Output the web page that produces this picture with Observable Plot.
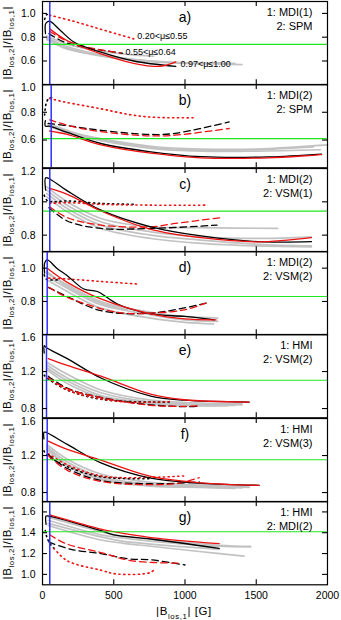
<!DOCTYPE html>
<html><head><meta charset="utf-8">
<script src="https://cdn.jsdelivr.net/npm/d3@7"></script>
<script src="https://cdn.jsdelivr.net/npm/@observablehq/plot@0.6"></script>
<style>
body{margin:0;background:#fff}
#chart{position:relative;width:341px;height:620px;font-family:'Liberation Sans',Arial,sans-serif}
#chart svg{position:absolute;left:0}
</style>
</head><body><div id="chart"></div>
<script>
// ---- axis / panel info ----
const xTicks = [500, 1000, 1500];
const xLabels = [0, 500, 1000, 1500, 2000];
const panelLetters = ["a)", "b)", "c)", "d)", "e)", "f)", "g)"];
const instr1 = ["1: MDI(1)", "1: MDI(2)", "1: MDI(2)", "1: MDI(2)", "1: HMI", "1: HMI", "1: HMI"];
const instr2 = ["2: SPM", "2: SPM", "2: VSM(1)", "2: VSM(2)", "2: VSM(2)", "2: VSM(3)", "2: MDI(2)"];
const yDomains = [[0.4, 1.1], [0.4, 1.0], [0.7, 1.2], [0.6, 1.1], [0.7, 1.6], [0.7, 1.6], [0.9, 1.7]];
const yTicks = [[0.6, 0.8, 1.0], [0.6, 0.8, 1.0], [0.8, 1.0, 1.2], [0.8, 1.0], [0.8, 1.2, 1.6], [0.8, 1.2, 1.6], [1.0, 1.2, 1.4, 1.6]];
const greenLevels = [0.74, 0.61, 0.944, 0.83, 1.105, 1.155, 1.41];
const blueLevels = [51, 61, 51, 33, 28, 33, 51];
const muLabels = ["0.20<μ≤0.55", "0.55<μ≤0.64", "0.97<μ≤1.00"];
const muLabelB = [665, 582, 968];
const muLabelR = [0.806, 0.671, 0.571];

// ---- panel a ----
const aBlack = [[21,0.83],[21,0.91],[35,0.93],[51,0.935],[126,0.856],[220,0.76],[410,0.674],[640,0.60],[935,0.554]];
const aRed = [[50,0.87],[174,0.77],[410,0.66],[640,0.58],[760,0.557],[850,0.56],[935,0.593]];
const aBlackDash = [[45,0.83],[150,0.76],[300,0.715],[450,0.685],[560,0.665]];
const aRedDash = [[50,0.85],[150,0.78],[300,0.72],[450,0.685],[550,0.667]];
const aBlackDot = [[15,0.95],[30,0.99],[50,0.985]];
const aRedDot = [[50,0.985],[200,0.94],[400,0.87],[640,0.786]];
const aGray = [
  [[30,0.80],[150,0.73],[300,0.68],[500,0.635],[800,0.595],[1100,0.58],[1400,0.57]],
  [[30,0.78],[150,0.71],[300,0.665],[500,0.625],[800,0.59],[1100,0.578],[1250,0.585]],
  [[30,0.81],[200,0.73],[400,0.685],[600,0.655],[780,0.64]],
  [[30,0.79],[200,0.70],[400,0.65],[700,0.605],[1000,0.585],[1350,0.58]]
];
// ---- panel b ----
const bBlack = [[20,0.74],[20,0.70],[45,0.70],[174,0.655],[410,0.575],[760,0.515],[1113,0.48],[1583,0.478],[1958,0.498]];
const bRed = [[50,0.665],[174,0.64],[410,0.565],[760,0.505],[1113,0.472],[1583,0.472],[1958,0.495]];
const bBlackDash = [[40,0.72],[200,0.70],[410,0.67],[760,0.64],[930,0.648],[1310,0.73]];
const bRedDash = [[50,0.745],[200,0.70],[410,0.66],[760,0.63],[930,0.635],[1310,0.683]];
const bBlackDot = [[15,0.78],[25,0.86],[45,0.90],[80,0.905]];
const bRedDot = [[50,0.90],[150,0.875],[410,0.825],[600,0.785],[760,0.765],[1065,0.76]];
const bGray = [
  [[40,0.72],[200,0.66],[410,0.61],[760,0.555],[1110,0.535],[1500,0.535],[2000,0.565]],
  [[40,0.70],[200,0.645],[410,0.595],[760,0.54],[1110,0.52],[1500,0.52],[1950,0.53]],
  [[40,0.71],[200,0.655],[410,0.603],[760,0.548],[1110,0.527],[1500,0.53],[1900,0.55]]
];
// ---- panel c ----
const cBlack = [[22,1.07],[22,1.145],[45,1.14],[174,1.066],[410,0.95],[760,0.85],[1113,0.795],[1512,0.761],[1887,0.761]];
const cRed = [[50,1.08],[174,1.045],[410,0.945],[760,0.835],[1113,0.785],[1512,0.76],[1887,0.785]];
const cBlackDash = [[45,0.965],[174,0.885],[410,0.84],[760,0.84],[1225,0.86]];
const cRedDash = [[50,0.97],[174,0.905],[410,0.86],[760,0.85],[930,0.87],[1254,0.905]];
const cBlackDot = [[12,1.04],[30,1.01],[60,1.0],[174,1.005],[410,0.99],[650,0.985]];
const cRedDot = [[50,0.99],[174,0.995],[410,0.985],[760,0.98],[1160,0.98]];
const cGray = [
  [[30,1.09],[174,1.0],[410,0.9],[760,0.85],[1113,0.845],[1650,0.84]],
  [[30,1.07],[174,0.98],[410,0.88],[760,0.82],[1113,0.79],[1512,0.78],[1887,0.79]],
  [[30,1.05],[174,0.96],[410,0.86],[760,0.80],[1113,0.77],[1512,0.745],[1887,0.735]],
  [[30,1.03],[174,0.94],[410,0.84],[760,0.78],[1113,0.75],[1512,0.735],[1887,0.73]]
];
// ---- panel d ----
const dBlack = [[15,0.97],[15,1.03],[33,1.05],[100,1.0],[174,0.955],[290,0.875],[385,0.86],[526,0.785],[760,0.725],[996,0.71],[1206,0.69]];
const dRed = [[40,0.995],[174,0.915],[410,0.815],[760,0.725],[996,0.695],[1218,0.69]];
const dBlackDash = [[40,0.885],[174,0.83],[410,0.745],[760,0.73],[1148,0.79]];
const dRedDash = [[45,0.885],[174,0.825],[526,0.735],[760,0.73],[996,0.75],[1148,0.79]];
const dBlackDot = [[12,0.96],[25,0.935],[45,0.93],[120,0.93]];
const dRedDot = [[45,0.94],[174,0.935],[410,0.92],[660,0.905]];
const dGray = [
  [[30,0.97],[174,0.90],[410,0.80],[760,0.735],[1000,0.71],[1230,0.70]],
  [[30,0.95],[174,0.88],[410,0.78],[760,0.72],[1000,0.69],[1230,0.68]],
  [[30,0.93],[174,0.86],[410,0.76],[760,0.70],[1000,0.675],[1200,0.665]],
  [[30,0.98],[174,0.89],[410,0.79],[600,0.75]]
];
// ---- panel e ----
const eBlack = [[12,1.40],[12,1.48],[25,1.46],[174,1.34],[410,1.13],[760,0.935],[996,0.89],[1450,0.87]];
const eRed = [[40,1.34],[174,1.266],[410,1.15],[760,0.955],[996,0.895],[1450,0.87]];
const eBlackDash = [[40,1.15],[174,1.02],[410,0.92],[760,0.84],[996,0.82],[1100,0.825]];
const eRedDash = [[40,1.13],[174,1.015],[410,0.918],[760,0.835],[996,0.824],[1110,0.83]];
const eBlackDot = [[12,1.16],[40,1.12],[174,1.0],[410,0.9],[760,0.87],[900,0.87]];
const eRedDot = [[40,1.13],[174,1.0],[410,0.905],[600,0.87],[900,0.875]];
const eGray = [
  [[30,1.30],[174,1.17],[410,1.0],[760,0.89],[1000,0.865],[1400,0.85]],
  [[30,1.27],[174,1.13],[410,0.97],[760,0.87],[1000,0.85],[1400,0.84]],
  [[30,1.24],[174,1.10],[410,0.94],[760,0.86],[1000,0.84],[1350,0.835]],
  [[30,1.22],[174,1.07],[410,0.92],[760,0.85],[1000,0.83],[1300,0.83]]
];
// ---- panel f ----
const fBlack = [[10,1.38],[10,1.45],[20,1.453],[174,1.32],[410,1.12],[760,0.955],[1113,0.9],[1520,0.878]];
const fRed = [[40,1.356],[174,1.266],[410,1.15],[760,0.975],[1113,0.905],[1520,0.878]];
const fBlackDash = [[40,1.21],[174,1.06],[410,0.93],[760,0.895],[1000,0.905],[1100,0.915]];
const fRedDash = [[40,1.2],[174,1.04],[410,0.92],[760,0.885],[950,0.9],[1100,0.96]];
const fBlackDot = [[10,1.25],[35,1.2],[174,1.08],[410,0.97],[760,0.95]];
const fRedDot = [[40,1.22],[174,1.1],[410,0.98],[660,0.96],[1000,0.98]];
const fGray = [
  [[30,1.32],[174,1.16],[410,1.0],[760,0.91],[1113,0.88],[1450,0.86]],
  [[30,1.30],[174,1.13],[410,0.97],[760,0.89],[1113,0.87],[1450,0.855]],
  [[30,1.28],[174,1.10],[410,0.95],[760,0.88],[1113,0.865],[1400,0.85]],
  [[30,1.27],[174,1.09],[410,0.94],[760,0.87],[1113,0.855],[1350,0.845]]
];
// ---- panel g ----
const gBlack = [[25,1.48],[25,1.56],[45,1.56],[410,1.42],[500,1.38],[760,1.34],[1240,1.25]];
const gRed = [[50,1.572],[410,1.435],[500,1.41],[760,1.354],[1240,1.296]];
const gBlackDash = [[45,1.31],[200,1.24],[410,1.2],[600,1.15],[760,1.14],[1000,1.09]];
const gRedDash = [[50,1.38],[174,1.29],[410,1.21],[630,1.13],[970,1.108]];
const gBlackDot = [[20,1.42],[30,1.36],[50,1.3],[80,1.25]];
const gRedDot = [[80,1.25],[174,1.13],[410,1.04],[526,1.003],[760,1.02],[790,1.06]];
const gGray = [
  [[40,1.55],[410,1.41],[500,1.38],[760,1.34],[1240,1.28],[1460,1.27]],
  [[40,1.52],[410,1.38],[560,1.35],[760,1.32],[1240,1.27],[1460,1.265]],
  [[40,1.49],[410,1.36],[560,1.32],[760,1.29],[1240,1.24]],
  [[40,1.47],[410,1.33],[560,1.30],[760,1.27],[1100,1.22],[1415,1.175]]
];

const panels = [
  {black:aBlack, red:aRed, blackDash:aBlackDash, redDash:aRedDash, blackDot:aBlackDot, redDot:aRedDot, gray:aGray},
  {black:bBlack, red:bRed, blackDash:bBlackDash, redDash:bRedDash, blackDot:bBlackDot, redDot:bRedDot, gray:bGray},
  {black:cBlack, red:cRed, blackDash:cBlackDash, redDash:cRedDash, blackDot:cBlackDot, redDot:cRedDot, gray:cGray},
  {black:dBlack, red:dRed, blackDash:dBlackDash, redDash:dRedDash, blackDot:dBlackDot, redDot:dRedDot, gray:dGray},
  {black:eBlack, red:eRed, blackDash:eBlackDash, redDash:eRedDash, blackDot:eBlackDot, redDot:eRedDot, gray:eGray},
  {black:fBlack, red:fRed, blackDash:fBlackDash, redDash:fRedDash, blackDot:fBlackDot, redDot:fRedDot, gray:fGray},
  {black:gBlack, red:gRed, blackDash:gBlackDash, redDash:gRedDash, blackDot:gBlackDot, redDot:gRedDot, gray:gGray}
];

// ---- styles ----
const RED = "#ee1111";
const styles = {
  gray: {stroke: "#c2c2c2", strokeWidth: 1.7},
  blackDot: {stroke: "#000", strokeWidth: 1.6, strokeDasharray: "1.2,3.6", strokeLinecap: "round"},
  redDot: {stroke: RED, strokeWidth: 1.6, strokeDasharray: "1.2,3.6", strokeLinecap: "round"},
  blackDash: {stroke: "#000", strokeWidth: 1.3, strokeDasharray: "6.5,4"},
  redDash: {stroke: RED, strokeWidth: 1.3, strokeDasharray: "6.5,4"},
  black: {stroke: "#000", strokeWidth: 1.3},
  red: {stroke: RED, strokeWidth: 1.3}
};
const order = ["blackDot", "redDot", "blackDash", "redDash", "black", "red"];

const W = 341, ML = 42, MR = 14, PH = 83.3, TOP0 = 1, MT = 8;
const innerW = W - ML - MR;
const toRows = pts => pts.map(([B, r]) => ({B, r}));
const chart = document.getElementById("chart");
const FONT = "'Liberation Sans', Arial, sans-serif";

function addSubText(sel, parts, fontSize) {
  parts.forEach(([txt, sub]) => {
    const t = sel.append("tspan").text(txt);
    if (sub) t.attr("font-size", fontSize * 0.68).attr("dy", fontSize * 0.28);
    else t.attr("dy", sel.node().childNodes.length > 1 ? -fontSize * 0.28 : 0);
  });
}

panels.forEach((p, i) => {
  const last = i === panels.length - 1;
  const top = TOP0 + i * PH;
  const MB = last ? 620 - (top + PH) : 8;
  const lc = {x: "B", y: "r", curve: "catmull-rom"};
  const yMax = yDomains[i][1];
  const tickBody = yTicks[i].filter(t => t < yMax - 1e-9);
  const tickTop = yTicks[i].filter(t => t >= yMax - 1e-9);
  const marks = [];
  p.gray.forEach(g => marks.push(Plot.line(toRows(g), {...lc, ...styles.gray})));
  order.forEach(k => marks.push(Plot.line(toRows(p[k]), {...lc, ...styles[k]})));
  marks.push(Plot.ruleY([greenLevels[i]], {stroke: "#1fe81f", strokeWidth: 1.1}));
  marks.push(Plot.ruleX([blueLevels[i]], {stroke: "#2f2fff", strokeWidth: 1.5}));
  // inward ticks
  marks.push(Plot.tickX(xTicks, {x: d => d, insetTop: PH - 5, stroke: "#000", strokeWidth: 1.1}));
  marks.push(Plot.tickX(xTicks, {x: d => d, insetBottom: PH - 5, stroke: "#000", strokeWidth: 1.1}));
  marks.push(Plot.tickY(yTicks[i], {y: d => d, insetRight: innerW - 5, stroke: "#000", strokeWidth: 1.1}));
  marks.push(Plot.tickY(yTicks[i], {y: d => d, insetLeft: innerW - 5, stroke: "#000", strokeWidth: 1.1}));
  marks.push(Plot.frame({stroke: "#000", strokeWidth: 1.2}));
  // y tick labels
  marks.push(Plot.text(tickBody, {y: d => d, text: d => d.toFixed(1), frameAnchor: "left", textAnchor: "end", dx: -7, fontSize: 10.5, fill: "#000"}));
  marks.push(Plot.text(tickTop, {y: d => d, text: d => d.toFixed(1), frameAnchor: "left", textAnchor: "end", dx: -7, dy: 3, fontSize: 10.5, fill: "#000"}));
  // texts
  marks.push(Plot.text([panelLetters[i]], {text: d => d, frameAnchor: "top", dy: 11, fontSize: 14, fill: "#000"}));
  marks.push(Plot.text([instr1[i]], {text: d => d, frameAnchor: "top-right", textAnchor: "end", dx: -15, dy: 7, fontSize: 11, fill: "#000", letterSpacing: "0.5px"}));
  marks.push(Plot.text([instr2[i]], {text: d => d, frameAnchor: "top-right", textAnchor: "end", dx: -15, dy: 21, fontSize: 11, fill: "#000", letterSpacing: "0.5px"}));
  if (i === 0) {
    marks.push(Plot.text(muLabels, {x: (d, j) => muLabelB[j], y: (d, j) => muLabelR[j], text: d => d, textAnchor: "start", fontSize: 9, fill: "#000"}));
  }
  const svg = Plot.plot({
    width: W, height: PH + MT + MB,
    marginLeft: ML, marginRight: MR, marginTop: MT, marginBottom: MB,
    style: {fontFamily: FONT, fontSize: "10.5px", background: "transparent", overflow: "visible", color: "#000"},
    x: {domain: [0, 2000], axis: last ? "bottom" : null, ticks: xLabels, tickSize: 0, tickPadding: 7, tickFormat: d => String(d), label: null},
    y: {domain: yDomains[i], axis: null},
    marks
  });
  svg.style.top = (top - MT) + "px";
  const s = d3.select(svg);
  // y title
  const yt = s.append("text")
    .attr("transform", `translate(10.5,${MT + PH / 2}) rotate(-90)`)
    .attr("text-anchor", "middle").attr("font-size", 11.5).attr("fill", "#000")
    .attr("font-family", FONT).attr("letter-spacing", "0.6px");
  addSubText(yt, [["|B"], ["los,2", true], ["|/|B"], ["los,1", true], ["|"]], 11.5);
  if (last) {
    const xt = s.append("text")
      .attr("x", ML + innerW * 0.5 - 0.5).attr("y", MT + PH + 31)
      .attr("text-anchor", "middle").attr("font-size", 11.5).attr("fill", "#000")
      .attr("font-family", FONT).attr("letter-spacing", "0.6px");
    addSubText(xt, [["|B"], ["los,1", true], ["| [G]"]], 11.5);
  }
  chart.appendChild(svg);
});
</script>
</body></html>
